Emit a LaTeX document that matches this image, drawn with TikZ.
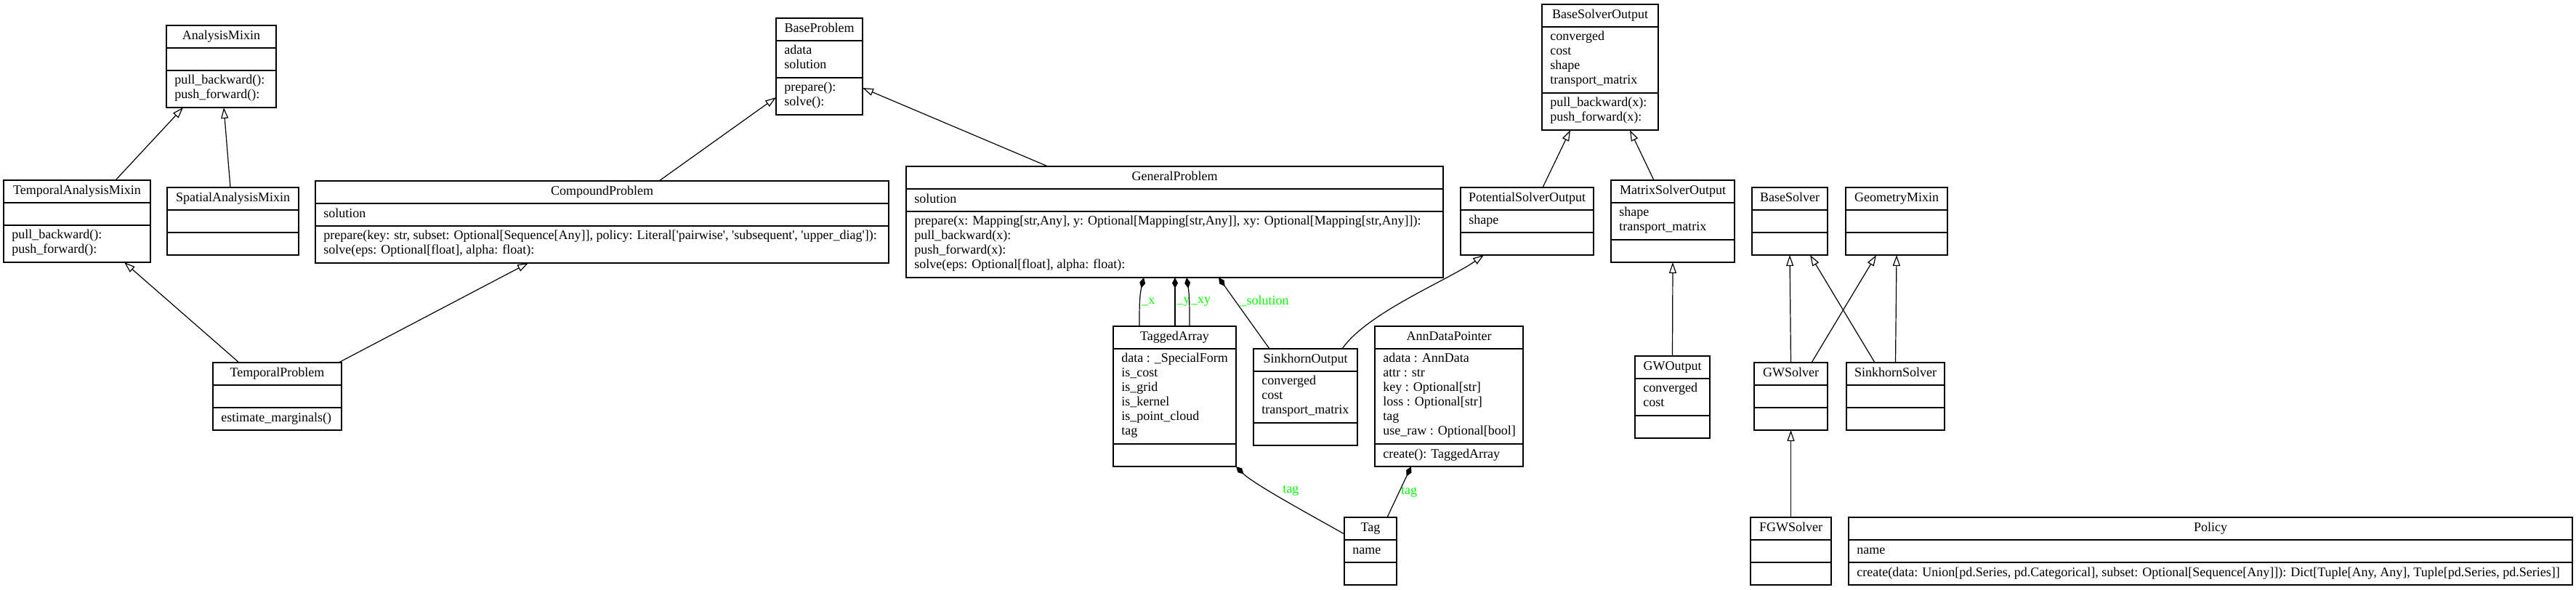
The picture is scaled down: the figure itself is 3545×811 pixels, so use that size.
\documentclass[tikz,border=0pt]{standalone}
\usepackage{fontspec}
\setmainfont{Liberation Serif}
\usepackage{tikz}
\usetikzlibrary{calc}
\usetikzlibrary{arrows.meta}

\definecolor{assocgreen}{RGB}{0,255,0}
\newcommand{\px}{0.5}

\tikzset{
  classbox/.style={draw, line width=0.75pt, anchor=north, inner sep=0pt, outer sep=0pt},
  classline/.style={line width=0.75pt},
  classtext/.style={font=\fontsize{9}{10}\selectfont, inner xsep=5.5pt, inner ysep=2.75pt,
    execute at begin node=\strut, execute at end node=\strut},
  inherit/.style={line width=0.6pt, -{Triangle[open, length=7.5pt, width=5pt]}},
  compose/.style={line width=0.6pt, {Diamond[length=7.5pt, width=4pt]}-},
  assoc/.style={text=assocgreen, font=\fontsize{9}{10}\selectfont, inner sep=1pt}
}

% class box: name, x, top, width, title, attributes, #attributes, methods, #methods
\newcommand{\umlclass}[9]{%
  \pgfmathsetmacro{\hA}{#7==0 ? 31 : 20*#7+11}%
  \pgfmathsetmacro{\hM}{#9==0 ? 31 : 20*#9+11}%
  \pgfmathsetmacro{\wB}{#4*\px}%
  \pgfmathsetmacro{\hB}{(31+\hA+\hM)*\px}%
  \node[classbox, minimum width=\wB pt, minimum height=\hB pt] (#1) at (#2,#3) {};
  \draw[classline] ($(#1.north west)+(0,31)$) -- ($(#1.north east)+(0,31)$);
  \draw[classline] ($(#1.north west)+(0,31+\hA)$) -- ($(#1.north east)+(0,31+\hA)$);
  \node[classtext, anchor=north] at (#1.north) {#5};
  \node[classtext, anchor=north west, align=left] at ($(#1.north west)+(0,31)$) {#6};
  \node[classtext, anchor=north west, align=left] at ($(#1.north west)+(0,31+\hA)$) {#8};
}

\begin{document}
\begin{tikzpicture}[x=0.5pt, y=-0.5pt]

\useasboundingbox (0,0) rectangle (3545,811);

% Analysis mixins and problems
\umlclass{am}{304.5}{35}{151}{AnalysisMixin}{}{0}{pull\_backward():\\push\_forward():}{2}
\umlclass{tam}{106}{248}{202}{TemporalAnalysisMixin}{}{0}{pull\_backward():\\push\_forward():}{2}
\umlclass{sam}{320.5}{258}{181}{SpatialAnalysisMixin}{}{0}{}{0}
\umlclass{cp}{828.5}{249}{789}{CompoundProblem}{solution}{1}{prepare(key: str, subset: Optional[Sequence[Any]], policy: Literal[\textquotesingle{}pairwise\textquotesingle, \textquotesingle{}subsequent\textquotesingle, \textquotesingle{}upper\_diag\textquotesingle]):\\solve(eps: Optional[float], alpha: float):}{2}
\umlclass{tp}{381.5}{499}{177}{TemporalProblem}{}{0}{estimate\_marginals()}{1}
\umlclass{bp}{1127.5}{25}{119}{BaseProblem}{adata\\solution}{2}{prepare():\\solve():}{2}
\umlclass{gp}{1616.5}{229}{739}{GeneralProblem}{solution}{1}{prepare(x: Mapping[str,Any], y: Optional[Mapping[str,Any]], xy: Optional[Mapping[str,Any]]):\\pull\_backward(x):\\push\_forward(x):\\solve(eps: Optional[float], alpha: float):}{4}

% Tagged data
\umlclass{ta}{1616.5}{449}{169}{TaggedArray}{data : \_SpecialForm\\is\_cost\\is\_grid\\is\_kernel\\is\_point\_cloud\\tag}{6}{}{0}
\umlclass{so}{1796.5}{480}{143}{SinkhornOutput}{converged\\cost\\transport\_matrix}{3}{}{0}
\umlclass{adp}{1994}{449}{204}{AnnDataPointer}{adata : AnnData\\attr : str\\key : Optional[str]\\loss : Optional[str]\\tag\\use\_raw : Optional[bool]}{6}{create(): TaggedArray}{1}
\umlclass{tag}{1886}{712}{72}{Tag}{name}{1}{}{0}

% Solver outputs
\umlclass{bso}{2202}{6}{160}{BaseSolverOutput}{converged\\cost\\shape\\transport\_matrix}{4}{pull\_backward(x):\\push\_forward(x):}{2}
\umlclass{pso}{2101.5}{258}{183}{PotentialSolverOutput}{shape}{1}{}{0}
\umlclass{mso}{2302}{248}{170}{MatrixSolverOutput}{shape\\transport\_matrix}{2}{}{0}
\umlclass{gwo}{2301.5}{490}{103}{GWOutput}{converged\\cost}{2}{}{0}

% Solvers
\umlclass{bs}{2463}{258}{104}{BaseSolver}{}{0}{}{0}
\umlclass{gm}{2610}{258}{140}{GeometryMixin}{}{0}{}{0}
\umlclass{gws}{2464.5}{499}{101}{GWSolver}{}{0}{}{0}
\umlclass{ss}{2608.5}{499}{135}{SinkhornSolver}{}{0}{}{0}
\umlclass{fgw}{2464.5}{712}{111}{FGWSolver}{}{0}{}{0}
\umlclass{pol}{3042}{712}{996}{Policy}{name}{1}{create(data: Union[pd.Series, pd.Categorical], subset: Optional[Sequence[Any]]): Dict[Tuple[Any, Any], Tuple[pd.Series, pd.Series]]}{1}

% Inheritance
\draw[inherit] ($(tam.north)+(53,0)$) -- ($(am.south)+(-52.5,0)$);
\draw[inherit] ($(sam.north)+(-3.5,0)$) -- ($(am.south)+(3.5,0)$);
\draw[inherit] ($(tp.north)+(-52.5,0)$) -- ($(tam.south)+(65,0)$);
\draw[inherit] ($(tp.north)+(84.5,0)$) -- ($(cp.south)+(-101.5,0)$);
\draw[inherit] ($(cp.north)+(78.5,0)$) -- ($(bp.west)+(0,42.5)$);
\draw[inherit] ($(gp.north)+(-174.5,0)$) -- ($(bp.east)+(0,29.5)$);
\draw[inherit] ($(so.north)+(50.5,0)$) .. controls +(35,-50) and +(-50,35) .. ($(pso.south)+(-59.5,0)$);
\draw[inherit] ($(pso.north)+(21.5,0)$) -- ($(bso.south)+(-41,0)$);
\draw[inherit] ($(mso.north)+(-26,0)$) -- ($(bso.south)+(41,0)$);
\draw[inherit] (gwo.north) -- (mso.south);
\draw[inherit] (gws.north) -- (bs.south);
\draw[inherit] ($(gws.north)+(28.5,0)$) -- ($(gm.south)+(-28,0)$);
\draw[inherit] ($(ss.north)+(-28.5,0)$) -- ($(bs.south)+(28,0)$);
\draw[inherit] (ss.north) -- (gm.south);
\draw[inherit] (fgw.north) -- (gws.south);

% Composition
\draw[compose] ($(gp.south)+(-42.5,0)$) .. controls +(-6,25) and +(0,-25) .. ($(ta.north)+(-48.5,0)$)
  node[assoc, right, midway] {\_x};
\draw[compose] ($(gp.south)+(0.5,0)$) -- ($(ta.north)+(0.5,0)$)
  node[assoc, right, midway] {\_y};
\draw[compose] ($(gp.south)+(16.5,0)$) .. controls +(4,25) and +(0,-25) .. ($(ta.north)+(20.5,0)$)
  node[assoc, right, midway] {\_xy};
\draw[compose] ($(gp.south)+(60.5,0)$) -- ($(so.north)+(-49.5,0)$)
  node[assoc, right, pos=0.33, xshift=2pt] {\_solution};
\draw[compose] (ta.south east) .. controls +(25,25) and +(-35,-20) .. ($(tag.west)+(0,-23.5)$)
  node[assoc, anchor=south west, pos=0.45] {tag};
\draw[compose] ($(adp.south)+(-52,0)$) -- ($(tag.north)+(23,0)$)
  node[assoc, right, midway] {tag};

\end{tikzpicture}
\end{document}
